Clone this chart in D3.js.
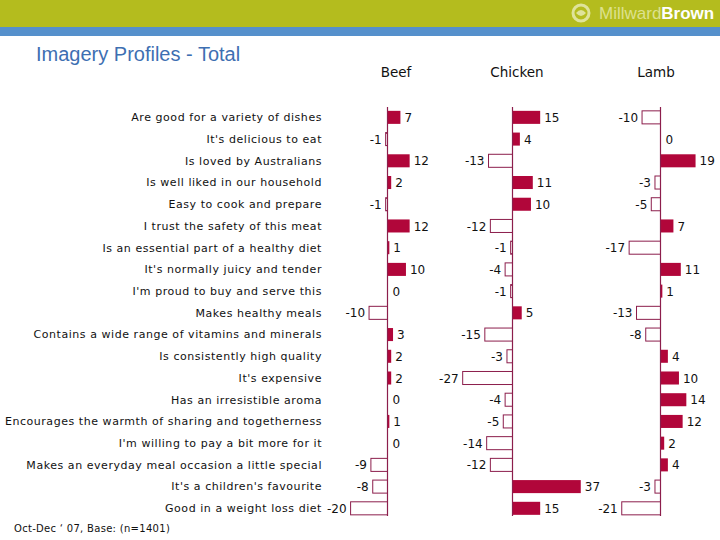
<!DOCTYPE html>
<html><head><meta charset="utf-8">
<script src="https://cdn.jsdelivr.net/npm/d3@7"></script>
<style>body{margin:0;background:#fff}svg{display:block}</style>
</head><body>
<svg id="chart" width="720" height="540"></svg>
<script>
const categories = [
  "Are good for a variety of dishes",
  "It's delicious to eat",
  "Is loved by Australians",
  "Is well liked in our household",
  "Easy to cook and prepare",
  "I trust the safety of this meat",
  "Is an essential part of a healthy diet",
  "It's normally juicy and tender",
  "I'm proud to buy and serve this",
  "Makes healthy meals",
  "Contains a wide range of vitamins and minerals",
  "Is consistently high quality",
  "It's expensive",
  "Has an irresistible aroma",
  "Encourages the warmth of sharing and togetherness",
  "I'm willing to pay a bit more for it",
  "Makes an everyday meal occasion a little special",
  "It's a children's favourite",
  "Good in a weight loss diet"
];
const seriesNames = ["Beef", "Chicken", "Lamb"];
const beef    = [7, -1, 12, 2, -1, 12, 1, 10, 0, -10, 3, 2, 2, 0, 1, 0, -9, -8, -20];
const chicken = [15, 4, -13, 11, 10, -12, -1, -4, -1, 5, -15, -3, -27, -4, -5, -14, -12, 37, 15];
const lamb    = [-10, 0, 19, -3, -5, 7, -17, 11, 1, -13, -8, 4, 10, 14, 12, 2, 4, -3, -21];
const seriesValues = [beef, chicken, lamb];

const svg = d3.select("#chart");

// header bands
svg.append("rect").attr("x",0).attr("y",0).attr("width",720).attr("height",27).attr("fill","#b4bc1e");
svg.append("rect").attr("x",0).attr("y",27).attr("width",720).attr("height",9).attr("fill","#5590cc");
// logo
const logo = svg.append("g");
logo.append("circle").attr("cx",581).attr("cy",13).attr("r",8).attr("fill","none").attr("stroke","#dfe39a").attr("stroke-width",3);
logo.append("path").attr("d","M576,13 q5,-6 10,0 q-5,6 -10,0z").attr("fill","#dfe39a");
const lt = logo.append("text").attr("x",599).attr("y",19).attr("font-family","Liberation Sans, Arial, sans-serif").attr("font-size",17);
lt.append("tspan").attr("fill","#dde18e").text("Millward");
lt.append("tspan").attr("fill","#ffffff").attr("font-weight","bold").text("Brown");

// title
svg.append("text").attr("x",36).attr("y",61).attr("font-family","Liberation Sans, Arial, sans-serif")
  .attr("font-size",20).attr("fill","#3e6fb2").text("Imagery Profiles - Total");

const y = d3.scaleBand().domain(categories).range([106.5, 106.5 + 19*21.72]).paddingInner(0.4).paddingOuter(0.2);

const axisX = [387.5, 512.5, 660.5];
const headerX = [396, 517, 656];
const unit = 1.845;
const barColor = "#b1063a";
const lineColor = "#8c1e4c";
const valFont = "DejaVu Sans, Verdana, sans-serif";

// category labels
svg.append("g").selectAll("text").data(categories).join("text")
  .attr("x",322).attr("y",d=>y(d)+y.bandwidth()/2).attr("dy","0.35em")
  .attr("text-anchor","end").attr("font-family",valFont).attr("font-size",11)
  .attr("letter-spacing",0.55).attr("fill","#111")
  .text(d=>d);

seriesNames.forEach((name,i)=>{
  const x = d3.scaleLinear().domain([-30,40]).range([axisX[i]-30*unit, axisX[i]+40*unit]);
  const g = svg.append("g");
  g.append("text").attr("x",headerX[i]).attr("y",77).attr("text-anchor","middle")
    .attr("font-family",valFont).attr("font-size",13.5).attr("fill","#111").text(name);
  const data = categories.map((c,j)=>({c, v: seriesValues[i][j]}));
  g.selectAll("rect").data(data).join("rect")
    .attr("x",d=>d.v>=0 ? x(0) : x(d.v))
    .attr("y",d=>y(d.c))
    .attr("width",d=>Math.abs(x(d.v)-x(0)))
    .attr("height",y.bandwidth())
    .attr("fill",d=>d.v>0 ? barColor : "#fff")
    .attr("stroke",d=>d.v>0 ? "none" : lineColor)
    .attr("stroke-width",1)
    .attr("display",d=>d.v===0?"none":null);
  g.selectAll("text.v").data(data).join("text").attr("class","v")
    .attr("x",d=>d.v>0 ? x(d.v)+4 : (d.v<0 ? x(d.v)-4 : x(0)+5))
    .attr("y",d=>y(d.c)+y.bandwidth()/2).attr("dy","0.38em")
    .attr("text-anchor",d=>d.v<0?"end":"start")
    .attr("font-family",valFont).attr("font-size",12).attr("fill","#111")
    .text(d=>String(d.v));
  g.append("line").attr("x1",x(0)).attr("x2",x(0)).attr("y1",107).attr("y2",516)
    .attr("stroke",lineColor).attr("stroke-width",1.2);
});

svg.append("text").attr("x",14).attr("y",532).attr("font-family",valFont).attr("font-size",10)
  .attr("letter-spacing",0.3).attr("fill","#111").text("Oct-Dec ‘ 07, Base: (n=1401)");
</script>
</body></html>
